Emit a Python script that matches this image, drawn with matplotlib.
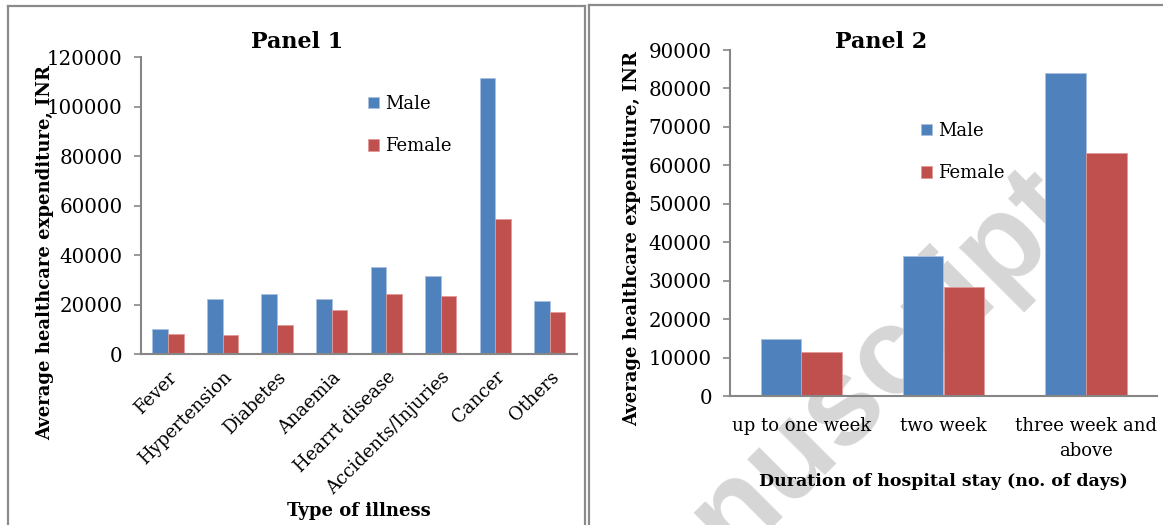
import matplotlib
matplotlib.use("Agg")
import matplotlib.pyplot as plt
import numpy as np
from matplotlib.lines import Line2D

# ---- data ----
illness = ["Fever", "Hypertension", "Diabetes", "Anaemia", "Hearrt disease",
           "Accidents/Injuries", "Cancer", "Others"]
illness_male = [10100, 22200, 24300, 22500, 35400, 31700, 111800, 21700]
illness_female = [8100, 7800, 11900, 17900, 24200, 23400, 54700, 17000]

stay = ["up to one week", "two week", "three week and\nabove"]
stay_male = [14800, 36300, 84000]
stay_female = [11500, 28400, 63200]

series_names = ["Male", "Female"]
panel_titles = ["Panel 1", "Panel 2"]
ylabel = "Average healthcare expenditure, INR"
xlabels = ["Type of illness", "Duration of hospital stay (no. of days)"]

BLUE = "#4F81BD"
RED = "#C0504D"
AXIS = "#868686"
FONT = "DejaVu Serif"

W, H = 1163, 525
fig = plt.figure(figsize=(W / 100, H / 100), dpi=100)
fig.patch.set_facecolor("white")
plt.rcParams["font.family"] = FONT


def fx(px):
    return px / W


def fy(py):
    return 1 - py / H


# background watermark
fig.text(fx(1082), fy(210), "Manuscript", family="Liberation Sans", weight="bold",
         fontsize=90, color="#d6d6d6", rotation=45, rotation_mode="anchor",
         ha="right", va="baseline", zorder=-5)

# panel frames
frame_kw = dict(color="#8a8a8a", lw=1.6, transform=fig.transFigure, zorder=-4)
fig.add_artist(Line2D([fx(8), fx(8)], [fy(6), 0], **frame_kw))
fig.add_artist(Line2D([fx(8), fx(585)], [fy(6), fy(6)], **frame_kw))
fig.add_artist(Line2D([fx(585), fx(585)], [fy(6), 0], **frame_kw))
fig.add_artist(Line2D([fx(589), fx(589)], [fy(5), 0], **frame_kw))
fig.add_artist(Line2D([fx(589), 1], [fy(5), fy(5)], **frame_kw))

BW = 1 / 3.5  # bar width: two bars plus 150% gap per category


def style_axes(ax, ymax, ystep):
    ax.set_facecolor("none")
    for s in ("top", "right"):
        ax.spines[s].set_visible(False)
    for s in ("left", "bottom"):
        ax.spines[s].set_color(AXIS)
        ax.spines[s].set_linewidth(1.5)
    ax.set_ylim(0, ymax)
    ax.set_yticks(np.arange(0, ymax + 1, ystep))
    ax.tick_params(axis="y", length=5, width=1.2, color=AXIS, pad=8,
                   labelsize=14.3)
    ax.tick_params(axis="x", length=0, labelsize=13)


def draw_bars(ax, cats, male, female):
    x = np.arange(len(cats))
    b1 = ax.bar(x - BW / 2, male, BW, color=BLUE, label=series_names[0],
                edgecolor="#a9c0df", linewidth=0.6)
    b2 = ax.bar(x + BW / 2, female, BW, color=RED, label=series_names[1],
                edgecolor="#e09a98", linewidth=0.6)
    ax.set_xlim(-0.5, len(cats) - 0.5)
    ax.set_xticks(x)
    return b1, b2


legend_kw = dict(frameon=False, fontsize=13, handlelength=0.6,
                 handleheight=0.6, handletextpad=0.35, labelspacing=1.35,
                 borderaxespad=0, borderpad=0, bbox_transform=fig.transFigure,
                 loc="upper left")

# ---- Panel 1 ----
ax1 = fig.add_axes([fx(140.7), fy(354.3), fx(577) - fx(140.7), fy(57.3) - fy(354.3)])
draw_bars(ax1, illness, illness_male, illness_female)
style_axes(ax1, 120000, 20000)
ax1.tick_params(axis="x", pad=10)
ax1.set_xticklabels(illness, rotation=45, ha="right", va="top",
                    rotation_mode="anchor")
ax1.legend(bbox_to_anchor=(fx(368), fy(95)), **legend_kw)
fig.text(fx(297), fy(42), panel_titles[0], ha="center", va="center",
         fontsize=16, weight="bold")
fig.text(fx(45), fy(252), ylabel, ha="center", va="center", rotation=90,
         fontsize=13, weight="bold")
fig.text(fx(359), fy(511), xlabels[0], ha="center", va="center",
         fontsize=13, weight="bold")

# ---- Panel 2 ----
ax2 = fig.add_axes([fx(730), fy(396), fx(1157) - fx(730), fy(50) - fy(396)])
draw_bars(ax2, stay, stay_male, stay_female)
style_axes(ax2, 90000, 10000)
ax2.tick_params(axis="x", pad=15)
ax2.set_xticklabels(stay, ha="center", va="top", linespacing=1.5)
ax2.legend(bbox_to_anchor=(fx(921), fy(122)), **legend_kw)
fig.text(fx(881), fy(42), panel_titles[1], ha="center", va="center",
         fontsize=16, weight="bold")
fig.text(fx(632), fy(238), ylabel, ha="center", va="center", rotation=90,
         fontsize=13, weight="bold")
fig.text(fx(943), fy(481), xlabels[1], ha="center", va="center",
         fontsize=12.5, weight="bold")

fig.savefig("out.png", dpi=100)
